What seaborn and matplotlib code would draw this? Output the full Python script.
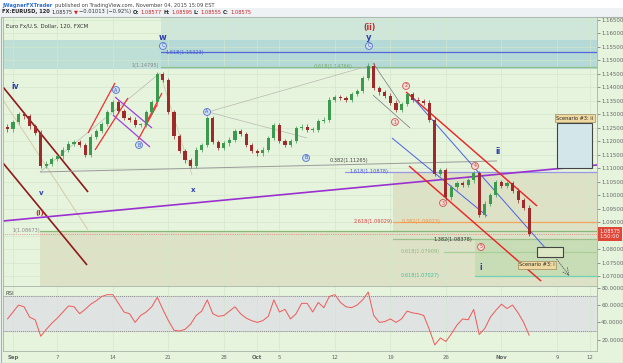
import matplotlib
matplotlib.use("Agg")
import matplotlib.pyplot as plt
from matplotlib.patches import Rectangle
import seaborn as sns
import numpy as np
import pandas as pd

# EURUSD, 12h closes (trading-day index, Sep 1 = 0)
first_day = -0.5
bar_step = 0.5
first_open = 1.1255
closes = [1.1246, 1.1272, 1.1302, 1.1294, 1.1257, 1.1232, 1.1109, 1.1117, 1.1135, 1.1146,
          1.1169, 1.1191, 1.1198, 1.1187, 1.1150, 1.1217, 1.1239, 1.1265, 1.1309, 1.1346,
          1.1313, 1.1287, 1.1280, 1.1261, 1.1261, 1.1309, 1.1346, 1.1450, 1.1428, 1.1309,
          1.1220, 1.1165, 1.1131, 1.1109, 1.1169, 1.1187, 1.1287, 1.1198, 1.1176, 1.1194,
          1.1206, 1.1239, 1.1228, 1.1187, 1.1165, 1.1157, 1.1169, 1.1213, 1.1261, 1.1202,
          1.1187, 1.1202, 1.1250, 1.1254, 1.1243, 1.1243, 1.1276, 1.1280, 1.1354, 1.1365,
          1.1361, 1.1354, 1.1376, 1.1387, 1.1435, 1.1480, 1.1398, 1.1383, 1.1369, 1.1343,
          1.1317, 1.1339, 1.1376, 1.1354, 1.1350, 1.1343, 1.1280, 1.1080, 1.1094, 1.0994,
          1.1031, 1.1046, 1.1039, 1.1057, 1.1083, 1.0928, 1.0969, 1.1002, 1.1050, 1.1035,
          1.1046, 1.1017, 1.0983, 1.0954, 1.08575]
rsi = [44, 52, 60, 58, 46, 43, 24, 32, 39, 45,
       52, 59, 58, 50, 55, 61, 65, 70, 72, 72,
       62, 52, 50, 40, 48, 52, 58, 69, 55, 42,
       31, 30, 32, 38, 48, 53, 66, 50, 47, 48,
       53, 58, 50, 45, 42, 40, 42, 47, 66, 52,
       55, 44, 50, 62, 62, 52, 63, 57, 70, 72,
       63, 58, 57, 60, 66, 75, 48, 40, 41, 44,
       40, 44, 53, 51, 50, 48, 32, 14, 22, 18,
       27, 37, 44, 43, 55, 26, 33, 46, 54, 61,
       56, 60, 51, 40, 25]
last_price = 1.08575

date_ticks = [0, 4, 9, 14, 19, 22, 24, 29, 34, 39, 44, 49, 52]
date_labels = ["Sep", "7", "14", "21", "28", "Oct", "5", "12", "19", "26", "Nov", "9", "12"]
price_ticks = [round(1.070 + 0.005 * i, 3) for i in range(20)]
rsi_ticks = [20, 40, 60, 80]

# fib levels: price, start day, colour
fib_prices = [1.15323, 1.14766, 1.10878, 1.09023, 1.08378, 1.07909, 1.07027, 1.08673]
fib_start = [13.3, 13.3, 29.9, 34.2, 34.2, 38.8, 41.6, 2.43]
fib_colors = ["#5468d8", "#8fc08a", "#9898e4", "#f2a35e", "#9ac090", "#a8d098", "#6fd2b2", "#88b878"]

# trend / channel lines drawn on the chart (day, price)
lines = [
    ((-0.90, 1.14019), (6.76, 1.10130), "#8e1b1b", 1.2),
    ((-0.90, 1.11204), (6.67, 1.07426), "#8e1b1b", 1.2),
    ((-0.90, 1.13537), (6.76, 1.08722), "#d8c9a8", 0.7),
    ((-0.90, 1.09056), (52.61, 1.11130), "#9b30d0", 1.2),
    ((2.43, 1.10870), (13.24, 1.14537), "#b8b8b0", 0.5),
    ((13.24, 1.14537), (16.13, 1.10759), "#d0c49c", 0.5),
    ((17.57, 1.13093), (31.98, 1.14796), "#b8b8b0", 0.5),
    ((17.57, 1.13093), (26.49, 1.12130), "#b8b8b0", 0.5),
    ((2.43, 1.10870), (43.60, 1.11278), "#9a9a9a", 0.7),
    ((32.43, 1.14910), (34.86, 1.13430), "#777777", 0.5),
    ((32.43, 1.13720), (35.77, 1.12500), "#777777", 0.5),
    ((6.76, 1.12315), (9.19, 1.14167), "#ee3030", 0.9),
    ((7.39, 1.11685), (10.36, 1.13611), "#ee3030", 0.9),
    ((11.26, 1.12056), (12.97, 1.13352), "#ee3030", 0.9),
    ((11.89, 1.12611), (13.42, 1.13796), "#ee3030", 0.9),
    ((9.19, 1.13648), (12.52, 1.12500), "#a040e0", 0.9),
    ((9.01, 1.12981), (12.34, 1.11796), "#a040e0", 0.9),
    ((35.41, 1.13833), (47.21, 1.09611), "#ee2020", 1.0),
    ((35.68, 1.11093), (47.57, 1.06833), "#ee2020", 1.0),
    ((34.14, 1.12130), (42.70, 1.09241), "#4a62e8", 0.7),
    ((35.95, 1.13648), (48.11, 1.07981), "#4a62e8", 0.7),
]

W, H = 623, 363
BG = "#e6f4dd"


def box(x0, y0, x1, y1):
    return [x0 / W, 1 - y1 / H, (x1 - x0) / W, (y1 - y0) / H]


sns.set_theme(style="white")
plt.rcParams["font.family"] = ["DejaVu Sans"]

fig = plt.figure(figsize=(6.23, 3.63), dpi=100)
fig.patch.set_facecolor("white")
fig.patches.append(Rectangle((0, 0), 1, 1 - 8 / H, transform=fig.transFigure,
                             fc="#eef2f5", ec="none", zorder=-2))
fig.patches.append(Rectangle((0.5 / W, 0.5 / H), 1 - 1 / W, 1 - 17.5 / H, transform=fig.transFigure,
                             fc=BG, ec="#a9b3a9", lw=0.8, zorder=-1))

# header, pieces laid out one after another
renderer = fig.canvas.get_renderer()


def header_line(pieces, y, x0=2, gap=2.5):
    x = x0
    for s, c, w in pieces:
        t = fig.text(x / W, 1 - y / H, s, color=c, fontsize=3.7, weight=w, va="center")
        x = t.get_window_extent(renderer).x1 + gap


header_line([("JWagnerFXTrader", "#2b6fd6", "bold"),
             ("published on TradingView.com, November 04, 2015 15:09 EST", "#444", "normal")], 5)
header_line([("FX:EURUSD, 120", "#222", "bold"), ("1.08575", "#333", "normal"),
             ("\u25bc", "#d42020", "normal"), ("\u22120.01013 (\u22120.92%)", "#333", "normal"),
             ("O:", "#222", "bold"), ("1.08577", "#d42020", "normal"),
             ("H:", "#222", "bold"), ("1.08595", "#d42020", "normal"),
             ("L:", "#222", "bold"), ("1.08555", "#d42020", "normal"),
             ("C:", "#222", "bold"), ("1.08575", "#d42020", "normal")], 12, gap=1.5)

# ---------- price panel ----------
ax = fig.add_axes(box(3, 17, 597, 286))
ax.set_facecolor(BG)
xmin, xmax = -0.90, 52.61
ax.set_xlim(xmin, xmax)
ax.set_ylim(1.06648, 1.16611)
ax.set_xticks(date_ticks)
ax.set_yticks(price_ticks)
# the 1.08500 label sits under the last-price box
ax.set_yticklabels(["" if abs(t - 1.085) < 1e-6 else f"{t:.5f}" for t in price_ticks])
ax.yaxis.tick_right()
ax.tick_params(axis="y", labelsize=3.9, colors="#666", length=2, pad=1, width=0.5)
ax.tick_params(axis="x", labelbottom=False, length=0)
ax.grid(True, color="#d3e6cb", lw=0.5)
for s in ax.spines.values():
    s.set_color("#a9b3a9")
    s.set_linewidth(0.6)

# shaded zones
ax.add_patch(Rectangle((xmin, 1.1469), xmax - xmin, 0.0107, fc="#9ccfcf", alpha=0.55, ec="none", zorder=0.5))
ax.add_patch(Rectangle((13.3, 1.1469), xmax - 13.3, 0.0193, fc="#a5cfd8", alpha=0.35, ec="none", zorder=0.5))
ax.add_patch(Rectangle((2.43, 1.06648), xmax - 2.43, 1.08673 - 1.06648, fc="#d6cfae", alpha=0.5, ec="none", zorder=0.5))
ax.add_patch(Rectangle((34.23, 1.08673), xmax - 34.23, 1.10833 - 1.08673, fc="#d6cfae", alpha=0.5, ec="none", zorder=0.5))
ax.add_patch(Rectangle((41.6, 1.07027), xmax - 41.6, 1.08378 - 1.07027, fc="#b0d6a4", alpha=0.45, ec="none", zorder=0.6))

for p, d0, c in zip(fib_prices, fib_start, fib_colors):
    ax.plot([d0, xmax], [p, p], color=c, lw=0.9, zorder=1)
ax.axhline(last_price, color="#e06060", lw=0.5, ls=":", zorder=1)

for (d0, p0), (d1, p1), c, lw in lines:
    ax.plot([d0, d1], [p0, p1], color=c, lw=lw, zorder=2, solid_capstyle="butt")

# candles
days = first_day + bar_step * np.arange(len(closes))
opens = [first_open] + closes[:-1]
df = pd.DataFrame({"day": days, "open": opens, "close": closes})
df["up"] = df["close"] >= df["open"]
wick = 0.0009
for _, r in df.iterrows():
    col = "#3b9a4e" if r["up"] else "#9e2a2a"
    lo, hi = min(r["open"], r["close"]), max(r["open"], r["close"])
    ax.vlines(r["day"], lo - wick, hi + wick, color=col, lw=0.5, zorder=3)
    ax.bar(r["day"], max(hi - lo, 0.00025), bottom=lo, width=0.28, color=col, lw=0, zorder=3)

# scenario boxes
ax.add_patch(Rectangle((49.01, 1.11019), 3.16, 0.01666, fc="#d3e6ea", ec="#444", lw=0.8, zorder=4))
ax.add_patch(Rectangle((47.21, 1.07722), 2.34, 0.00371, fc="#dfe8c6", ec="#444", lw=0.8, zorder=4))
ax.annotate("", xy=(50.27, 1.06944), xytext=(48.83, 1.07722),
            arrowprops=dict(arrowstyle="->", ls=":", color="#555", lw=0.6), zorder=4)
tag = dict(boxstyle="square,pad=0.25", fc="#f0d9a0", ec="#8a7a50", lw=0.4)
ax.text(50.6, 1.1287, "Scenario #3: ii", fontsize=3.6, ha="center", va="center", bbox=tag, zorder=5)
ax.text(47.2, 1.0743, "Scenario #3: i", fontsize=3.6, ha="center", va="center", bbox=tag, zorder=5)

# fib texts
fib_text = [
    (13.78, 1.15290, "1.618(1.15323)", "#4a5ed0", "left"),
    (13.1, 1.14820, "1(1.14795)", "#888", "right"),
    (30.6, 1.14790, "0.618(1.14766)", "#7aa874", "right"),
    (32.0, 1.11300, "0.382(1.11265)", "#444", "right"),
    (33.8, 1.10878, "1.618(1.10878)", "#4a5ed0", "right"),
    (34.2, 1.09040, "2.618(1.09029)", "#e04040", "right"),
    (35.0, 1.09040, "0.382(1.09023)", "#f09040", "left"),
    (37.9, 1.08360, "1.382(1.08378)", "#333", "left"),
    (34.9, 1.07909, "0.618(1.07909)", "#8fb880", "left"),
    (34.9, 1.07027, "0.618(1.07027)", "#3fbf9a", "left"),
    (2.40, 1.08700, "1(1.08673)", "#888", "right"),
]
for d, p, s, c, ha in fib_text:
    ax.text(d, p, s, fontsize=3.6, color=c, ha=ha, va="center", zorder=5)

# wave labels
waves = [(13.51, 1.15870, "w", "#2c40b0", 6), (32.16, 1.16204, "(ii)", "#c02828", 5.5),
         (32.07, 1.15870, "y", "#2c40b0", 6), (0.18, 1.14019, "iv", "#2c40b0", 5.5),
         (2.52, 1.10093, "v", "#2c40b0", 5), (2.43, 1.09352, "(i)", "#c02828", 5),
         (16.22, 1.10204, "x", "#2c40b0", 5), (43.69, 1.11648, "ii", "#2c40b0", 5.5),
         (42.16, 1.07315, "i", "#2c40b0", 5.5)]
for d, p, s, c, fs in waves:
    ax.text(d, p, s, fontsize=fs, color=c, ha="center", va="center", weight="bold", zorder=5)

circ_blue = [(13.51, 1.15537, "C"), (32.07, 1.15537, "C"), (9.28, 1.13907, "A"),
             (11.35, 1.11870, "B"), (17.48, 1.13093, "A"), (26.40, 1.11389, "B")]
for d, p, s in circ_blue:
    ax.text(d, p, s, fontsize=3.4, color="#3550c0", ha="center", va="center", zorder=5,
            bbox=dict(boxstyle="circle,pad=0.2", fc="#cfe0f2", ec="#5570d0", lw=0.6))
circ_red = [(34.41, 1.12722, "1"), (35.41, 1.14056, "2"), (38.74, 1.09722, "3"),
            (41.62, 1.11093, "4"), (42.16, 1.08093, "5")]
for d, p, s in circ_red:
    ax.text(d, p, s, fontsize=3.4, color="#d04040", ha="center", va="center", zorder=5,
            bbox=dict(boxstyle="circle,pad=0.2", fc="#f3dcd4", ec="#d05050", lw=0.6))

ax.text(0.005, 0.975, "Euro Fx/U.S. Dollar, 120, FXCM", transform=ax.transAxes,
        fontsize=3.9, color="#333", va="top", ha="left")
ax.text(1.004, last_price, "1.08575\n1:50:00", transform=ax.get_yaxis_transform(),
        fontsize=3.7, color="white", ha="left", va="center", linespacing=1.2,
        bbox=dict(boxstyle="square,pad=0.3", fc="#e04638", ec="none"), clip_on=False, zorder=6)

# ---------- RSI panel ----------
ax2 = fig.add_axes(box(3, 286, 597, 351))
ax2.set_facecolor(BG)
ax2.set_xlim(xmin, xmax)
ax2.set_ylim(7, 82)
ax2.axhspan(30, 70, color="#dfe3e2", zorder=0)
for lvl in (30, 70):
    ax2.axhline(lvl, color="#888", lw=0.7, ls=(0, (1, 1)), zorder=1)
sns.lineplot(x=days, y=rsi, color="#f05858", lw=0.7, ax=ax2, zorder=3)
ax2.set_xlabel("")
ax2.set_ylabel("")
ax2.set_yticks(rsi_ticks)
ax2.set_yticklabels([f"{t:.4f}" for t in rsi_ticks])
ax2.yaxis.tick_right()
ax2.set_xticks(date_ticks)
ax2.set_xticklabels(date_labels)
for lab in ax2.get_xticklabels():
    if lab.get_text() in ("Sep", "Oct", "Nov"):
        lab.set_fontweight("bold")
ax2.tick_params(axis="y", labelsize=3.9, colors="#666", length=2, pad=1, width=0.5)
ax2.tick_params(axis="x", labelsize=3.9, colors="#666", length=2, pad=1, width=0.5)
ax2.grid(True, axis="x", color="#d3e6cb", lw=0.5)
for s in ax2.spines.values():
    s.set_color("#a9b3a9")
    s.set_linewidth(0.6)
ax2.text(0.005, 0.93, "RSI", transform=ax2.transAxes, fontsize=3.9, color="#444", va="top")

fig.savefig("out.png", dpi=100)
plt.close()
